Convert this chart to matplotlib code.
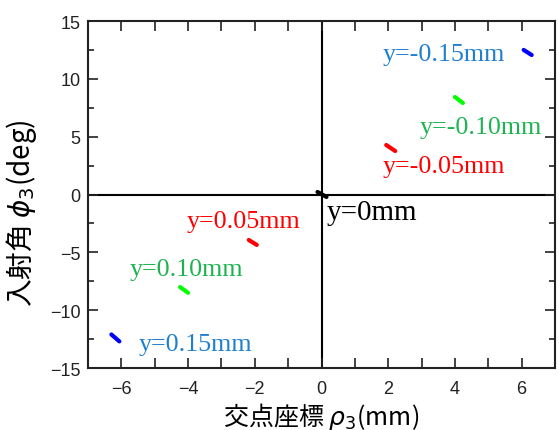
import matplotlib
matplotlib.use("Agg")
import matplotlib.pyplot as plt
from matplotlib.ticker import MultipleLocator, FuncFormatter

plt.rcParams['font.family'] = ['Liberation Sans', 'DejaVu Sans']
plt.rcParams['mathtext.fontset'] = 'dejavusans'

# Short traces: start / end of each segment (rho in mm, phi in deg)
offsets = ["-0.15", "-0.10", "-0.05", "0", "0.05", "0.10", "0.15"]
rho_start = [6.06, 4.00, 1.94, -0.12, -2.18, -4.24, -6.30]
rho_end = [6.30, 4.24, 2.21, 0.15, -1.94, -4.00, -6.06]
phi_start = [12.50, 8.43, 4.28, 0.22, -3.93, -8.00, -12.10]
phi_end = [12.06, 7.91, 3.76, -0.21, -4.36, -8.50, -12.70]
mark_colors = ["#0000ff", "#00ff00", "#ff0000", "#000000", "#ff0000", "#00ff00", "#0000ff"]
label_colors = ["#1f7fd0", "#1db350", "#ff0000", "#000000", "#ff0000", "#1db350", "#1f7fd0"]
label_x = [1.83, 2.94, 1.83, 0.15, -4.05, -5.76, -5.49]
label_y = [12.15, 5.84, 2.47, -1.50, -2.29, -6.43, -12.92]
label_size = [18.7, 18.7, 18.7, 21, 18.7, 18.7, 18.7]

fig = plt.figure(figsize=(5.59, 4.31), dpi=100)
ax = fig.add_axes([88 / 559, 1 - 369 / 431, 467 / 559, 347 / 431])

ax.axhline(0, color="black", lw=1.5, zorder=1)
ax.axvline(0, color="black", lw=1.5, zorder=1)

for xs, xe, ys, ye, c in zip(rho_start, rho_end, phi_start, phi_end, mark_colors):
    ax.plot([xs, xe], [ys, ye], color=c, lw=3.0, solid_capstyle="round", zorder=3)

for off, lx, ly, lc, fs in zip(offsets, label_x, label_y, label_colors, label_size):
    ax.text(lx, ly, f"y={off}mm", color=lc, ha="left", va="center",
            fontsize=fs, family="Liberation Serif", zorder=4)

ax.set_xlim(-7, 7)
ax.set_ylim(-15, 15)
ax.xaxis.set_major_locator(MultipleLocator(1))
ax.xaxis.set_major_formatter(FuncFormatter(
    lambda v, p: (f"{int(round(v))}".replace("-", "\u2212") if round(v) % 2 == 0 else "")))
ax.yaxis.set_major_locator(MultipleLocator(5))
ax.yaxis.set_minor_locator(MultipleLocator(2.5))
ax.yaxis.set_major_formatter(FuncFormatter(lambda v, p: f"{int(round(v))}".replace("-", "\u2212")))

ax.tick_params(which="both", direction="in", top=True, right=True,
               labelsize=13, width=1.2, colors="#222222", labelcolor="#222222")
ax.tick_params(which="major", length=7)
ax.tick_params(which="minor", length=4)
ax.tick_params(axis="x", pad=9)
ax.tick_params(axis="y", pad=5.5)
for s in ax.spines.values():
    s.set_linewidth(1.5)
    s.set_color("#222222")

cjk = ["Noto Sans CJK JP", "DejaVu Sans"]
ax.set_xlabel("交点座標 $\\rho_3$(mm)", fontsize=18, family=cjk)
ax.set_ylabel("入射角 $\\phi_3$(deg)", fontsize=20, family=cjk)
ax.xaxis.set_label_coords(0.5, -0.093)
ax.yaxis.set_label_coords(-0.104, 0.45)

fig.savefig("out.png", dpi=100, facecolor="white")
